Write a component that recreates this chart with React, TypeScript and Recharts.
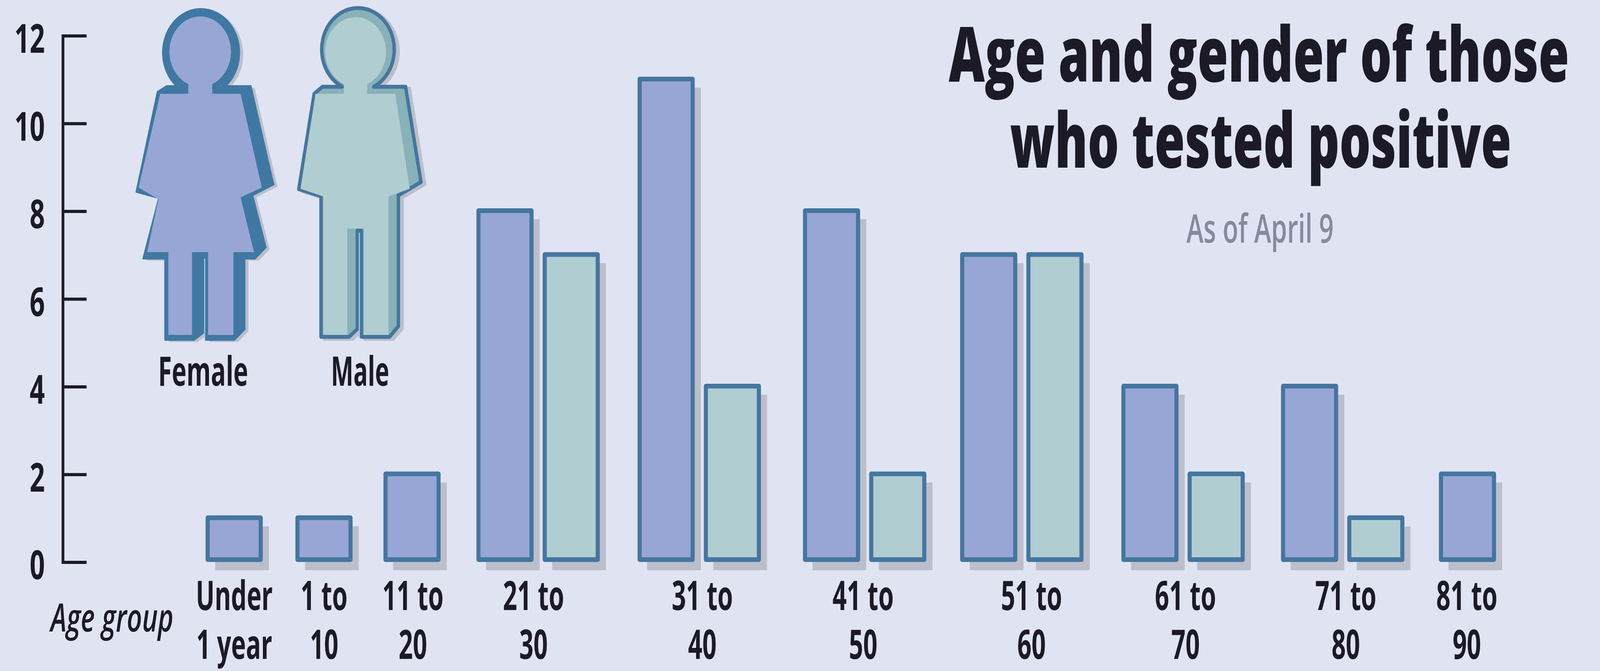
import { BarChart, Bar, XAxis, YAxis } from "recharts";

const ageGroups = [
  ["Under", "1 year"],
  ["1 to", "10"],
  ["11 to", "20"],
  ["21 to", "30"],
  ["31 to", "40"],
  ["41 to", "50"],
  ["51 to", "60"],
  ["61 to", "70"],
  ["71 to", "80"],
  ["81 to", "90"],
];
const femaleCases = [1, 1, 2, 8, 11, 8, 7, 4, 4, 2];
const maleCases = [null, null, null, 7, 4, 2, 7, 2, 1, null];
const yTicks = [0, 2, 4, 6, 8, 10, 12];

// the groups are not evenly spaced in the original, so x is a numeric slot axis
const groupSlots = [0, 1.017, 2.014, 3.442, 5.267, 7.14, 8.92, 10.746, 12.554, 13.967];
const labelSlots = [0, 1.017, 2.023, 3.389, 5.301, 7.122, 9.029, 10.773, 12.588, 13.959];
const halfPair = 0.375;

// one row per drawn bar
const rows = ageGroups.flatMap((_, i) => {
  if (maleCases[i] === null) return [{ slot: groupSlots[i], female: femaleCases[i] }];
  return [
    { slot: groupSlots[i] - halfPair, female: femaleCases[i] },
    { slot: groupSlots[i] + halfPair, male: maleCases[i] },
  ];
});

const WIDTH = 4675;
const HEIGHT = 1717;
const INK = "#1b1a26";
const BORDER = "#44769f";
const FEMALE_DARK = "#3f78a3";
const FEMALE = "#98a6d5";
const MALE = "#b0cdd2";
const MALE_SHADE = "#88b1b8";
const SHADOW = "#bcbecb";
const LEG_GAP = "#a9cde6";
const FONT = "'Open Sans', sans-serif";

function ShadowBar(props: any) {
  const { x, y, width, height, fill } = props;
  if (!height) return null;
  const top = y - 2;
  const bottom = y + height - 7;
  return (
    <g>
      <rect x={x + 22} y={top + 22} width={width + 2} height={bottom - top + 5} fill={SHADOW} />
      <rect x={x} y={top} width={width} height={bottom - top} fill={fill} stroke={BORDER} strokeWidth={12} strokeLinejoin="round" />
    </g>
  );
}

function YTick(props: any) {
  const { y, payload } = props;
  return (
    <g>
      <line x1={184} x2={253} y1={y} y2={y} stroke={INK} strokeWidth={8} />
      <text
        transform={`translate(131 ${y + 43}) scale(0.76 1)`}
        textAnchor="end"
        fontFamily={FONT}
        fontWeight={700}
        fontSize={102}
        fill={INK}
      >
        {payload.value}
      </text>
    </g>
  );
}

function AgeTick(props: any) {
  const { x, index } = props;
  const lines = ageGroups[index];
  if (!lines) return null;
  return (
    <text
      transform={`translate(${x} 0) scale(0.7 1)`}
      fontFamily={FONT}
      fontWeight={700}
      fontSize={104}
      fill={INK}
      textAnchor="middle"
    >
      <tspan x={0} y={1561}>{lines[0]}</tspan>
      <tspan x={0} y={1686}>{lines[1]}</tspan>
    </text>
  );
}

// condensed type: squeeze the text to the width it has in the original
const ruler = document.createElement("canvas").getContext("2d");

function FitText(props: any) {
  const { x, y, width, size, weight, italic, fill, children } = props;
  ruler.font = `${italic ? "italic " : ""}${weight} ${size}px ${FONT}`;
  const squeeze = width / ruler.measureText(children).width;
  return (
    <text
      transform={`translate(${x} ${y}) scale(${squeeze} 1)`}
      fontFamily={FONT}
      fontSize={size}
      fontWeight={weight}
      fontStyle={italic ? "italic" : "normal"}
      fill={fill || INK}
    >
      {children}
    </text>
  );
}

const femaleOuter =
  "M487 220 L515 220 A112 112 0 1 1 660 220 L733 220 L798 467 L800 472 L738 500 L777 633 L745 662 L715 662 L715 843 L685 870 L601 870 L599 662 L597 662 L597 850 L567 870 L482 870 L482 662 L418 662 L464 507 L398 491 L460 235 Z";
const femaleInner =
  "M468 240 L550 240 L550 215 A90 90 0 1 1 620 215 L620 240 L703 240 L765 480 L703 505 L742 645 L682 645 L682 857 L608 857 L608 645 L561 645 L561 857 L492 857 L492 645 L430 645 L463 510 L405 480 Z";
const maleOuter =
  "M942 222 L1000 222 A106 106 0 1 1 1092 222 L1185 222 L1230 466 L1164 500 L1164 835 L1138 862 L1056 862 L1056 590 L1044 590 L1044 842 L1020 862 L938 862 L938 502 L873 484 L918 240 Z";
const maleInner =
  "M922 240 L1005 240 L1005 215 A89 89 0 1 1 1073 215 L1073 240 L1155 240 L1197 483 L1135 503 L1135 857 L1063 857 L1063 585 L1015 585 L1015 857 L945 857 L945 503 L878 483 Z";

function Figures() {
  return (
    <svg width={WIDTH} height={HEIGHT} style={{ position: "absolute", left: 0, top: 0 }}>
      <path d={femaleOuter} fill={SHADOW} transform="translate(11 5)" />
      <path d={femaleOuter} fill={FEMALE_DARK} stroke={FEMALE_DARK} strokeWidth={4} strokeLinejoin="round" />
      <path d={femaleInner} fill={FEMALE} />
      <line x1={598} x2={598} y1={662} y2={868} stroke={LEG_GAP} strokeWidth={3} />
      <path d={maleOuter} fill={SHADOW} stroke={SHADOW} strokeWidth={10} transform="translate(11 5)" />
      <path d={maleOuter} fill={MALE_SHADE} stroke={BORDER} strokeWidth={10} strokeLinejoin="round" />
      <path d={maleInner} fill={MALE} />
      <line x1={1050} x2={1050} y1={596} y2={866} stroke={LEG_GAP} strokeWidth={3} />
      <FitText x={462} y={987} width={263} size={104} weight={700}>Female</FitText>
      <FitText x={967} y={987} width={170} size={104} weight={700}>Male</FitText>
      <FitText x={148} y={1616} width={359} size={100} weight={600} italic>Age group</FitText>
      <FitText x={2772} y={209} width={1813} size={195} weight={800}>Age and gender of those</FitText>
      <FitText x={2951} y={429} width={1465} size={195} weight={800}>who tested positive</FitText>
      <FitText x={3467} y={621} width={430} size={102} weight={600} fill="#868a9c">As of April 9</FitText>
    </svg>
  );
}

export default function App() {
  // the browser may open narrower than the chart, squeeze x so nothing gets cut off
  const fit = Math.min(1, window.innerWidth / WIDTH);
  return (
    <div
      style={{
        position: "absolute",
        left: 0,
        top: 0,
        width: WIDTH,
        height: HEIGHT,
        background: "#e0e4f2",
        overflow: "hidden",
        transform: `scaleX(${fit})`,
        transformOrigin: "0 0",
      }}
    >
      <BarChart width={WIDTH} height={HEIGHT} data={rows} barSize={155} margin={{ top: 92, right: 0, bottom: 0, left: 0 }}>
        <XAxis
          dataKey="slot"
          type="number"
          domain={[-1.94, 15.467]}
          ticks={labelSlots}
          interval={0}
          height={278}
          axisLine={false}
          tickLine={false}
          tick={<AgeTick />}
        />
        <YAxis
          type="number"
          domain={[0, 12]}
          ticks={yTicks}
          interval={0}
          width={184}
          axisLine={{ stroke: INK, strokeWidth: 8, strokeLinecap: "square" }}
          tickLine={false}
          tick={<YTick />}
        />
        <Bar dataKey="female" stackId="cases" fill={FEMALE} shape={<ShadowBar />} isAnimationActive={false} />
        <Bar dataKey="male" stackId="cases" fill={MALE} shape={<ShadowBar />} isAnimationActive={false} />
      </BarChart>
      <Figures />
    </div>
  );
}
